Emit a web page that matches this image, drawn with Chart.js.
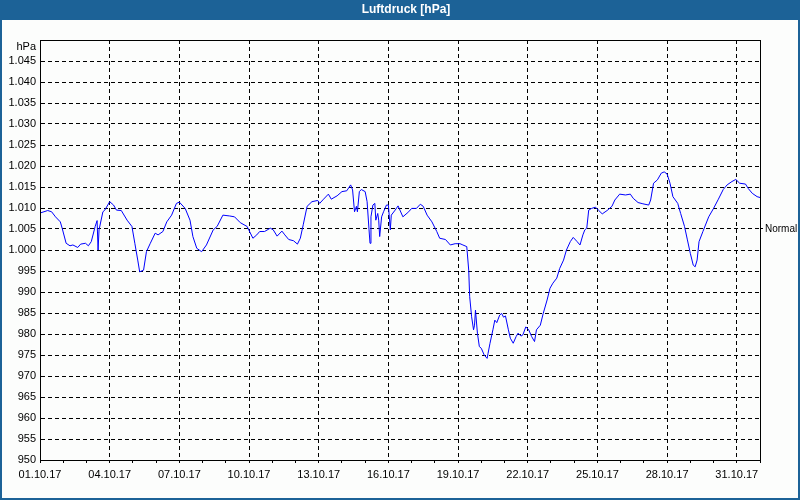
<!DOCTYPE html>
<html>
<head>
<meta charset="utf-8">
<script src="https://cdn.jsdelivr.net/npm/chart.js@4"></script>
<style>
  html, body { margin: 0; padding: 0; background: #fcfdfc; }
  canvas { display: block; }
</style>
</head>
<body>
<canvas id="chart" width="800" height="500"></canvas>
<script>
const title = 'Luftdruck [hPa]';
const normalValue = 1005;
const normalLabel = 'Normal';
const unitLabel = 'hPa';

// x tick labels, one every 3 days (72 h)
const dayLabels = ['01.10.17', '04.10.17', '07.10.17', '10.10.17', '13.10.17', '16.10.17',
    '19.10.17', '22.10.17', '25.10.17', '28.10.17', '31.10.17'];

// hours since 01.10.17 00:00
const hours = [
    0, 8, 12, 16, 21, 23, 27, 31, 34, 39,
    42, 47, 50, 53, 57, 59, 60, 61, 65, 67,
    72, 76, 79, 84, 90, 95, 98, 101, 103, 107,
    110, 114, 119, 122, 127, 131, 136, 141, 144, 150,
    155, 158, 162, 167, 172, 179, 183, 189, 196, 201,
    207, 214, 220, 224, 227, 232, 238, 241, 245, 250,
    253, 257, 262, 266, 269, 272, 276, 281, 287, 289,
    293, 298, 301, 307, 312, 317, 321, 323, 325, 327,
    328, 330, 332, 336, 338, 340, 341, 342, 344, 346,
    347, 349, 350, 351, 353, 355, 358, 360, 362, 363,
    367, 370, 375, 381, 384, 389, 393, 396, 400, 405,
    410, 413, 419, 424, 429, 434, 437, 441, 443, 444,
    446, 448, 449, 450, 452, 454, 456, 459, 462, 463,
    465, 468, 470, 472, 475, 477, 479, 481, 484, 486,
    489, 492, 494, 497, 499, 502, 505, 508, 511, 513,
    517, 520, 524, 527, 530, 534, 537, 541, 544, 548,
    551, 555, 558, 561, 563, 565, 567, 570, 574, 577,
    581, 586, 591, 594, 599, 605, 610, 613, 618, 623,
    629, 631, 634, 638, 642, 645, 648, 651, 654, 659,
    662, 666, 669, 672, 675, 677, 679, 681, 685, 691,
    696, 701, 706, 710, 715, 719, 723, 729, 732, 736,
    741, 744
];

const pressure = [
    1008.8, 1009.4, 1009.1, 1007.9, 1006.7, 1005.1, 1001.6, 1001.0, 1001.2, 1000.6,
    1001.4, 1001.6, 1001.0, 1002.0, 1005.6, 1007.0, 1000.0, 1004.8, 1009.1, 1009.5,
    1011.5, 1010.7, 1009.5, 1009.4, 1007.1, 1005.6, 1001.6, 997.6, 994.8, 995.2,
    999.6, 1001.6, 1004.0, 1003.6, 1004.4, 1006.7, 1008.3, 1011.1, 1011.4, 1009.9,
    1007.1, 1003.2, 1000.4, 999.6, 1001.2, 1004.8, 1005.6, 1008.3, 1008.1, 1007.9,
    1006.5, 1005.6, 1002.8, 1003.6, 1004.4, 1004.4, 1005.2, 1004.8, 1003.3, 1004.5,
    1003.6, 1002.5, 1002.2, 1001.4, 1002.8, 1006.0, 1010.4, 1011.5, 1011.8, 1011.1,
    1012.1, 1013.3, 1012.1, 1012.9, 1013.9, 1014.1, 1015.5, 1014.3, 1009.1, 1010.4,
    1009.1, 1013.9, 1014.4, 1013.9, 1011.5, 1004.8, 1001.6, 1007.9, 1010.7, 1011.1,
    1007.1, 1008.7, 1007.1, 1003.2, 1007.9, 1009.1, 1010.7, 1010.7, 1004.8, 1008.3,
    1009.5, 1010.5, 1007.9, 1009.1, 1009.9, 1009.9, 1010.9, 1010.4, 1008.3, 1006.7,
    1004.4, 1002.8, 1002.5, 1001.2, 1001.5, 1001.5, 1001.2, 1000.8, 995.2, 988.9,
    984.1, 981.0, 982.1, 985.7, 980.2, 977.0, 976.6, 975.0, 974.2, 975.4,
    977.8, 981.0, 983.3, 982.7, 984.5, 984.9, 984.0, 984.3, 981.0, 979.0,
    977.8, 979.4, 980.2, 979.5, 979.8, 981.7, 981.0, 979.4, 978.2, 981.0,
    982.1, 984.9, 988.1, 990.9, 992.1, 993.3, 995.6, 997.6, 1000.0, 1002.0,
    1003.0, 1002.0, 1001.2, 1003.6, 1004.8, 1005.2, 1009.5, 1009.9, 1010.2, 1009.5,
    1008.6, 1009.4, 1010.4, 1011.9, 1013.3, 1013.1, 1013.3, 1012.3, 1011.3, 1011.0,
    1010.7, 1011.9, 1015.9, 1016.7, 1018.3, 1018.6, 1018.1, 1015.9, 1012.7, 1011.1,
    1008.7, 1005.6, 1002.4, 999.2, 996.4, 996.0, 997.6, 1002.0, 1004.4, 1007.9,
    1009.9, 1012.1, 1014.4, 1015.5, 1016.3, 1016.8, 1015.9, 1015.7, 1014.6, 1013.5,
    1012.7, 1012.5
];

const points = hours.map((h, i) => ({ x: h, y: pressure[i] }));

// window frame + title bar, plot box
const framePlugin = {
    id: 'frame',
    beforeDraw(chart) {
        const { ctx, width, height } = chart;
        ctx.save();
        ctx.fillStyle = '#1c6297';
        ctx.fillRect(0, 0, width, height);
        ctx.fillStyle = '#fcfdfc';
        ctx.fillRect(2, 20, width - 4, height - 22);
        ctx.fillStyle = '#ffffff';
        ctx.font = 'bold 12px "Liberation Sans"';
        ctx.textAlign = 'center';
        ctx.textBaseline = 'middle';
        ctx.fillText(title, 406, 10);
        ctx.restore();
    },
    afterDraw(chart) {
        const { ctx, chartArea: a } = chart;
        ctx.save();
        ctx.strokeStyle = '#000';
        ctx.lineWidth = 1;
        ctx.strokeRect(a.left + 0.5, a.top + 0.5, a.right - a.left, a.bottom - a.top);
        ctx.restore();
    }
};

Chart.defaults.font.family = '"Liberation Sans", Arial, sans-serif';
Chart.defaults.font.size = 11;
Chart.defaults.color = '#000';

new Chart(document.getElementById('chart'), {
    type: 'line',
    data: {
        datasets: [{
            data: points,
            borderColor: '#0000ff',
            borderWidth: 1,
            pointRadius: 0,
            tension: 0,
            fill: false,
        }],
    },
    options: {
        responsive: false,
        animation: false,
        layout: { padding: { top: 40, left: 0, right: 0, bottom: 0 } },
        plugins: { legend: { display: false }, tooltip: { enabled: false } },
        scales: {
            x: {
                type: 'linear',
                min: 0,
                max: 744,
                afterFit: s => { s.height = 40; },
                ticks: {
                    stepSize: 24,
                    autoSkip: false,
                    maxRotation: 0,
                    padding: 5,
                    callback: v => (v % 72 === 0 ? dayLabels[v / 72] : ''),
                },
                grid: {
                    color: c => (c.tick && c.tick.value % 72 === 0 ? '#000' : 'rgba(0,0,0,0)'),
                    tickColor: '#000',
                    tickLength: 3,
                },
                border: { display: true, color: '#000', dash: [4, 3] },
            },
            y: {
                min: 950,
                max: 1050,
                afterFit: s => { s.width = 40; },
                ticks: {
                    stepSize: 5,
                    autoSkip: false,
                    padding: 4,
                    callback: v => {
                        if (v === 1050) return ['', unitLabel];
                        if (v >= 1000) return '1.' + String(v - 1000).padStart(3, '0');
                        return String(v);
                    },
                },
                grid: { color: '#000', drawTicks: false },
                border: { display: true, color: '#000', dash: [4, 3] },
            },
            y2: {
                position: 'right',
                min: 950,
                max: 1050,
                afterFit: s => { s.width = 40; },
                afterBuildTicks: s => { s.ticks = [{ value: normalValue }]; },
                ticks: {
                    autoSkip: false,
                    padding: 2,
                    font: { size: 10 },
                    callback: () => normalLabel,
                },
                grid: { drawOnChartArea: false, color: '#000', tickLength: 3 },
                border: { display: true, color: '#000' },
            },
        },
    },
    plugins: [framePlugin],
});
</script>
</body>
</html>
